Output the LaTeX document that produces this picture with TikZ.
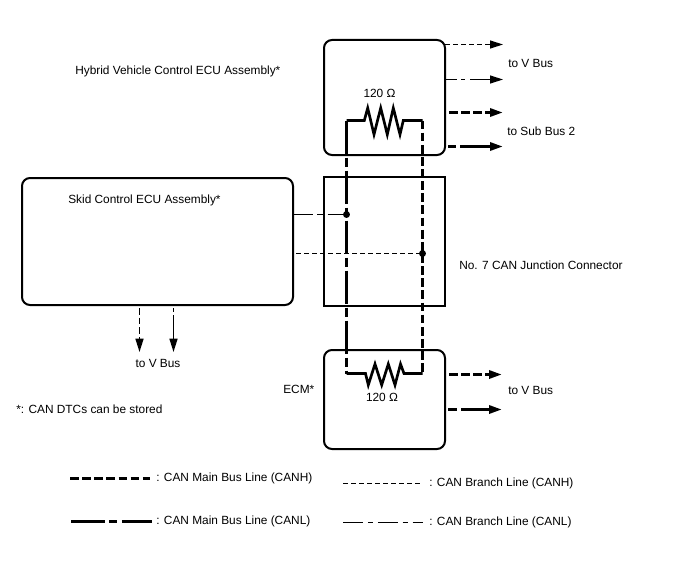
\documentclass[tikz,border=0pt]{standalone}
\usepackage{fontspec}
\setmainfont{Liberation Sans}
\usetikzlibrary{arrows.meta}
\tikzset{
  ecu/.style={draw=black,line width=1.5pt,rounded corners=6pt,inner sep=0pt,outer sep=0pt,anchor=north west},
  junction/.style={draw=black,line width=1.5pt,inner sep=0pt,outer sep=0pt,anchor=north west},
  lbl/.style={inner sep=0pt,font=\fontsize{8.9pt}{10pt}\selectfont},
  lbll/.style={lbl,anchor=west},
  hthick/.style={line width=2.25pt,dash pattern=on 6.6pt off 2.5pt},
  lthick/.style={line width=2.25pt,dash pattern=on 24.75pt off 3pt on 6.75pt off 3pt},
  hthin/.style={line width=0.95pt,dash pattern=on 3.8pt off 2.2pt},
  solidres/.style={line width=2pt,line join=miter},
  tip/.style={-{Triangle[length=9.75pt,width=6pt]}},
  dot/.style={circle,fill=black,inner sep=0pt,minimum size=5.2pt},
}
\begin{document}
\begin{tikzpicture}[x=0.75pt,y=-0.75pt]
\useasboundingbox (0,0) rectangle (688,560);
% boxes
\node[ecu,minimum width=90.75pt,minimum height=86.25pt] (hv) at (324,40) {};
\node[junction,minimum width=90.75pt,minimum height=96.75pt] (jc) at (324,177) {};
\node[ecu,minimum width=203.25pt,minimum height=95.25pt] (skid) at (22,178) {};
\node[ecu,minimum width=90.75pt,minimum height=74.25pt] (ecm) at (324,350) {};
% resistors
\coordinate (rtl) at (346.5,120.5); \coordinate (rtr) at (422.5,120.5);
\coordinate (rbl) at (346.5,373.5); \coordinate (rbr) at (422.5,373.5);
\draw[solidres] (rtl) -- (364.3,120.5) -- (367.7,108) -- (374,134.5) -- (380.7,108) -- (387.3,134.5) -- (393.3,108) -- (400,134.5) -- (403.3,120.5) -- (rtr);
\draw[solidres] (rbl) -- (365.5,373.5) -- (368.3,385) -- (375,364) -- (381.7,385) -- (388.3,364) -- (395,385) -- (400.5,364) -- (404,373.5) -- (rbr);
% main bus
\draw[lthick] (rtl) -- (rbl);
\draw[hthick] (rtr) -- (rbr);
% junction dots and branches
\node[dot] (d1) at (346.5,214.5) {};
\node[dot] (d2) at (422.5,253.5) {};
\coordinate (b1) at (293,214.5); \coordinate (b2) at (296,253.5);
\draw[line width=0.95pt,dash pattern=on 15pt off 3pt on 5pt off 3pt] (b1) -- (d1.center);
\draw[hthin,dash pattern=on 4pt off 2pt] (b2) -- (d2.center);
% top arrows
\coordinate (a1) at (445,44.5); \coordinate (a1e) at (503,44.5);
\coordinate (a2) at (446,79.5); \coordinate (a2e) at (503,79.5);
\coordinate (a3) at (449,112.5); \coordinate (a3e) at (503,112.5);
\coordinate (a4) at (448,146.5); \coordinate (a4e) at (503,146.5);
\draw[hthin,tip] (a1) -- (a1e);
\draw[line width=0.95pt,dash pattern=on 8pt off 3.5pt on 3pt off 3.5pt on 40pt off 0pt,tip] (a2) -- (a2e);
\draw[line width=2.25pt,dash pattern=on 6.6pt off 2.5pt,tip] (a3) -- (a3e);
\draw[line width=2.25pt,dash pattern=on 6pt off 3pt on 40pt off 0pt,tip] (a4) -- (a4e);
% bottom arrows
\coordinate (c1) at (449,374.5); \coordinate (c1e) at (502,374.5);
\coordinate (c2) at (448,409.5); \coordinate (c2e) at (502,409.5);
\draw[hthick,tip] (c1) -- (c1e);
\draw[line width=2.25pt,dash pattern=on 7pt off 3pt on 40pt off 0pt,tip] (c2) -- (c2e);
% down arrows
\coordinate (s1) at (139.5,308); \coordinate (s1e) at (139.5,352);
\coordinate (s2) at (173.5,308); \coordinate (s2e) at (173.5,352);
\draw[line width=1.1pt,dash pattern=on 5pt off 2.2pt,-{Triangle[length=10pt,width=6pt]}] (s1) -- (s1e);
\draw[line width=1.1pt,dash pattern=on 3pt off 2.5pt on 40pt off 0pt,-{Triangle[length=10pt,width=6pt]}] (s2) -- (s2e);
% labels
\node[lbll] (t1) at (75,71.5) {Hybrid Vehicle Control ECU Assembly*};
\node[lbll] (t2) at (68,200.5) {Skid Control ECU Assembly*};
\node[lbl] (t3) at (379.5,93.5) {120 Ω};
\node[lbl] (t4) at (382,397.5) {120 Ω};
\node[lbll] (t5) at (508,63) {to V Bus};
\node[lbll] (t6) at (507,131.5) {to Sub Bus 2};
\node[lbll] (t7) at (459,265.5) {No. 7 CAN Junction Connector};
\node[lbll] (t8) at (283,389.5) {ECM*};
\node[lbll] (t9) at (508,390.5) {to V Bus};
\node[lbl] (t10) at (158,363.5) {to V Bus};
\node[lbll] (t11) at (16,409.5) {*: CAN DTCs can be stored};
% legend
\coordinate (l1) at (70,478.5); \coordinate (l1e) at (150,478.5);
\coordinate (l2) at (71,521.5); \coordinate (l2e) at (152,521.5);
\coordinate (l3) at (343,483.5); \coordinate (l3e) at (422,483.5);
\coordinate (l4) at (343,522.5); \coordinate (l4e) at (423,522.5);
\draw[hthick] (l1) -- (l1e);
\draw[line width=2.25pt,dash pattern=on 25.5pt off 3pt on 6pt off 3.7pt] (l2) -- (l2e);
\draw[hthin] (l3) -- (l3e);
\draw[line width=0.95pt,dash pattern=on 15pt off 3.7pt on 3.7pt off 3.7pt] (l4) -- (l4e);
\node[lbll] (t12) at (156,478.5) {: CAN Main Bus Line (CANH)};
\node[lbll] (t13) at (156,521.5) {: CAN Main Bus Line (CANL)};
\node[lbll] (t14) at (429,483) {: CAN Branch Line (CANH)};
\node[lbll] (t15) at (429,522.5) {: CAN Branch Line (CANL)};
\end{tikzpicture}
\end{document}
